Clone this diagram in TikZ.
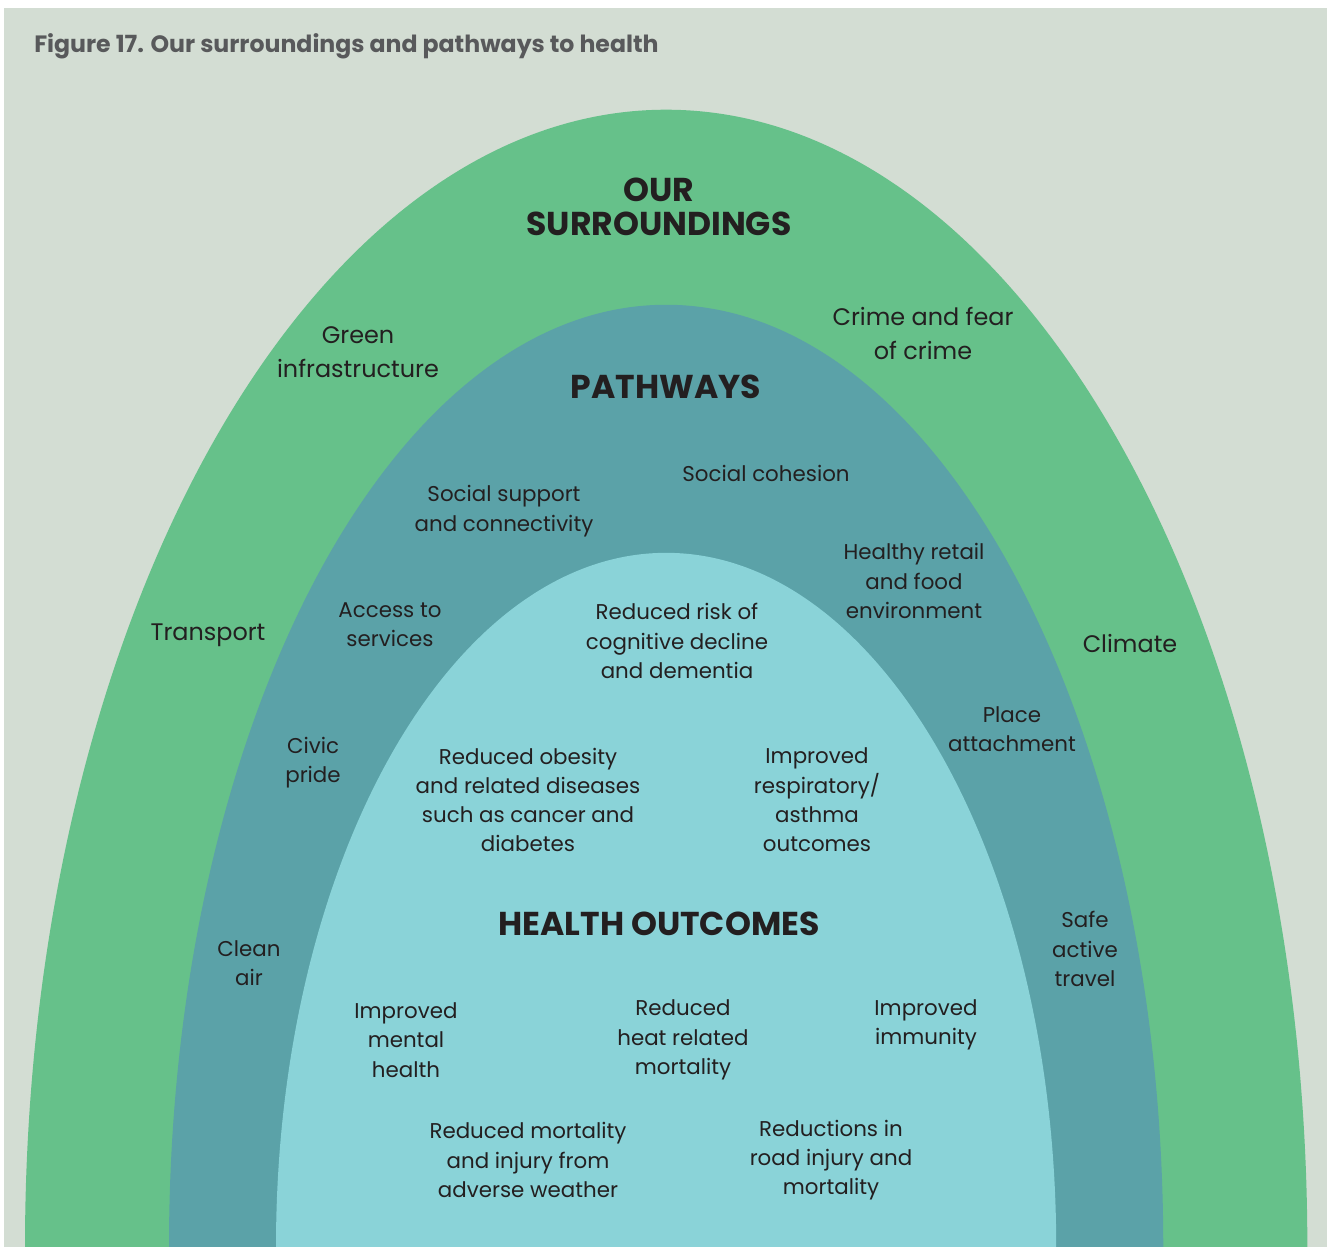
\documentclass[tikz,border=0pt]{standalone}
\usepackage{fontspec}
\setmainfont{Poppins}
\definecolor{panel}{HTML}{D3DDD3}
\definecolor{ringgreen}{HTML}{66C18A}
\definecolor{ringteal}{HTML}{5BA2A8}
\definecolor{ringlight}{HTML}{8AD3D8}
\definecolor{ink}{HTML}{231F20}
\definecolor{titlegrey}{HTML}{58595B}
\tikzset{
  item/.style={align=center, text=ink, inner sep=0pt, font=\fontsize{15.2}{20.8}\selectfont},
  outer/.style={align=center, text=ink, inner sep=0pt, font=\fontsize{17}{24.2}\selectfont},
  heading/.style={align=center, text=ink, inner sep=0pt, font=\bfseries\fontsize{23.5}{24.2}\selectfont},
}

\begin{document}
\begin{tikzpicture}[x=0.025cm, y=-0.025cm]
\useasboundingbox (0,0) rectangle (1328,1247);
\fill [white] (0,0) rectangle (1328,1247);
\fill [panel] (4,8) rectangle (1327,1247);
% the three rings
\fill [ringgreen] (25,1247) arc [start angle=180, end angle=0, x radius=16.025cm, y radius=28.425cm] -- cycle;
\fill [ringteal] (169,1247) arc [start angle=180, end angle=0, x radius=12.425cm, y radius=23.55cm] -- cycle;
\fill [ringlight] (276,1247) arc [start angle=180, end angle=0, x radius=9.75cm, y radius=17.35cm] -- cycle;
\node [anchor=west, text=titlegrey, inner sep=0pt, font=\bfseries\fontsize{16.8}{20}\selectfont] (title) at (34,46) {Figure 17. Our surroundings and pathways to health};
% our surroundings
\node [heading] (surr) at (659,207) {OUR\\SURROUNDINGS};
\node [outer] (green) at (358,352) {Green\\infrastructure};
\node [outer] (crime) at (923,333) {Crime and fear\\of crime};
\node [outer] (transport) at (208,635) {Transport};
\node [outer] (climate) at (1130,644) {Climate};
% pathways
\node [heading] (path) at (666,387) {PATHWAYS};
\node [item] (support) at (504,511) {Social support\\and connectivity};
\node [item] (cohesion) at (766,473) {Social cohesion};
\node [item] (retail) at (914,581) {Healthy retail\\and food\\environment};
\node [item] (access) at (390,625) {Access to\\services};
\node [item] (civic) at (313,763) {Civic\\pride};
\node [item] (place) at (1012,729) {Place\\attachment};
\node [item] (cleanair) at (249,963) {Clean\\air};
\node [item] (travel) at (1085,949) {Safe\\active\\travel};
% health outcomes
\node [heading] (health) at (659,924) {HEALTH OUTCOMES};
\node [item] (dementia) at (677,641) {Reduced risk of\\cognitive decline\\and dementia};
\node [item] (obesity) at (528,800) {Reduced obesity\\and related diseases\\such as cancer and\\diabetes};
\node [item] (asthma) at (817,800) {Improved\\respiratory/\\asthma\\outcomes};
\node [item] (mental) at (406,1040) {Improved\\mental\\health};
\node [item] (heat) at (683,1040) {Reduced\\heat related\\mortality};
\node [item] (immunity) at (926,1025) {Improved\\immunity};
\node [item] (weather) at (528,1160) {Reduced mortality\\and injury from\\adverse weather};
\node [item] (road) at (831,1160) {Reductions in\\road injury and\\mortality};
\end{tikzpicture}
\end{document}
